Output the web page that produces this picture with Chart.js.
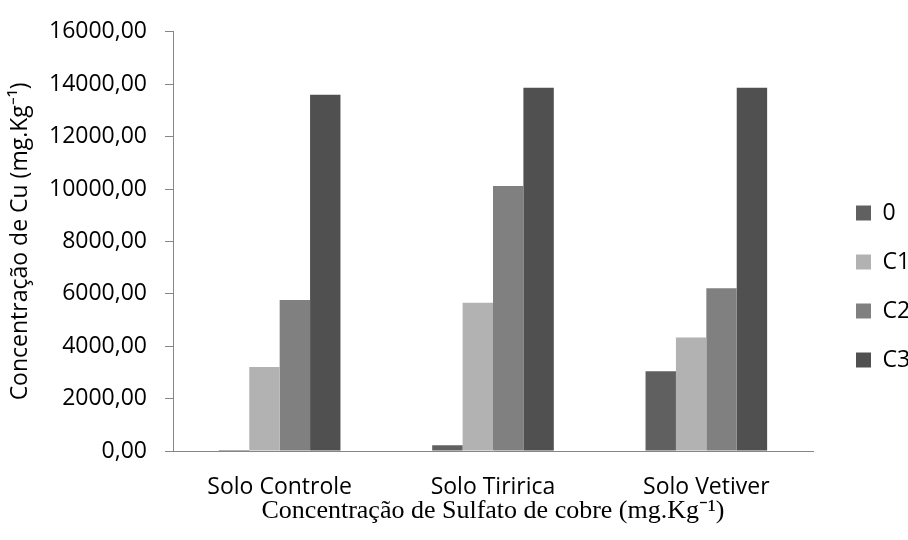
<!DOCTYPE html>
<html>
<head>
<meta charset="utf-8">
<script src="https://cdn.jsdelivr.net/npm/chart.js@4.4.1/dist/chart.umd.min.js"></script>
<style>
  html, body { margin: 0; padding: 0; background: #fff; }
  #wrap { width: 908px; height: 540px; position: relative; }
</style>
</head>
<body>
<div id="wrap"><canvas id="cuChart"></canvas></div>
<script>
// Data
const categories = ['Solo Controle', 'Solo Tiririca', 'Solo Vetiver'];
const seriesNames = ['0', 'C1', 'C2', 'C3'];
const values0 = [40, 220, 3040];
const valuesC1 = [3210, 5660, 4330];
const valuesC2 = [5760, 10110, 6210];
const valuesC3 = [13600, 13860, 13860];
const yTicks = [0, 2000, 4000, 6000, 8000, 10000, 12000, 14000, 16000];

const barColors = ['#606060', '#b2b2b2', '#808080', '#505050'];
const axisColor = '#868686';
const sansFont = "'Open Sans', 'Liberation Sans', sans-serif";

const allValues = [values0, valuesC1, valuesC2, valuesC3];

const datasets = seriesNames.map((name, i) => ({
    label: name,
    data: allValues[i],
    backgroundColor: barColors[i],
    borderWidth: 0,
    categoryPercentage: 0.57,
    barPercentage: 1.0
}));

const ctx = document.getElementById('cuChart').getContext('2d');

new Chart(ctx, {
    type: 'bar',
    data: {
        labels: categories,
        datasets: datasets
    },
    options: {
        responsive: true,
        maintainAspectRatio: false,
        animation: false,
        devicePixelRatio: 1,
        layout: { padding: 0 },
        plugins: {
            tooltip: { enabled: false },
            legend: {
                position: 'right',
                maxWidth: 78,
                labels: {
                    boxWidth: 15,
                    boxHeight: 15,
                    padding: 26,
                    color: '#000',
                    font: { family: sansFont, size: 23 }
                },
                // empty title only pushes the items down a bit
                title: {
                    display: true,
                    text: '',
                    font: { size: 10 },
                    padding: 10.5
                }
            }
        },
        scales: {
            x: {
                grid: { display: false, drawTicks: false },
                border: { display: true, color: axisColor, width: 1 },
                ticks: {
                    color: '#000',
                    padding: 23,
                    font: { family: sansFont, size: 23 }
                },
                title: {
                    display: true,
                    text: 'Concentração de Sulfato de cobre (mg.Kg⁻¹)',
                    color: '#000',
                    font: { family: "'Liberation Serif', 'Times New Roman', serif", size: 26 },
                    padding: { top: 0, bottom: 13 }
                },
                afterFit: (scale) => { scale.height = 89; }
            },
            y: {
                min: 0,
                max: 16000,
                grid: {
                    display: true,
                    drawOnChartArea: false,
                    drawTicks: true,
                    tickLength: 8,
                    color: axisColor
                },
                border: { display: true, color: axisColor, width: 1 },
                ticks: {
                    color: '#000',
                    padding: 18,
                    font: { family: sansFont, size: 23 },
                    callback: (value) => value.toFixed(2).replace('.', ',')
                },
                afterBuildTicks: (scale) => {
                    scale.ticks = yTicks.map(v => ({ value: v }));
                },
                title: {
                    display: true,
                    text: 'Concentração de Cu (mg.Kg⁻¹)',
                    color: '#000',
                    font: { family: sansFont, size: 23 },
                    padding: { top: 7, bottom: 0 }
                },
                afterFit: (scale) => { scale.width = 173; }
            },
            // spacer between the plot and the legend
            gap: {
                type: 'linear',
                position: 'right',
                display: true,
                grid: { display: false },
                border: { display: false },
                ticks: { display: false },
                afterFit: (scale) => { scale.width = 17; }
            }
        }
    }
});
</script>
</body>
</html>
